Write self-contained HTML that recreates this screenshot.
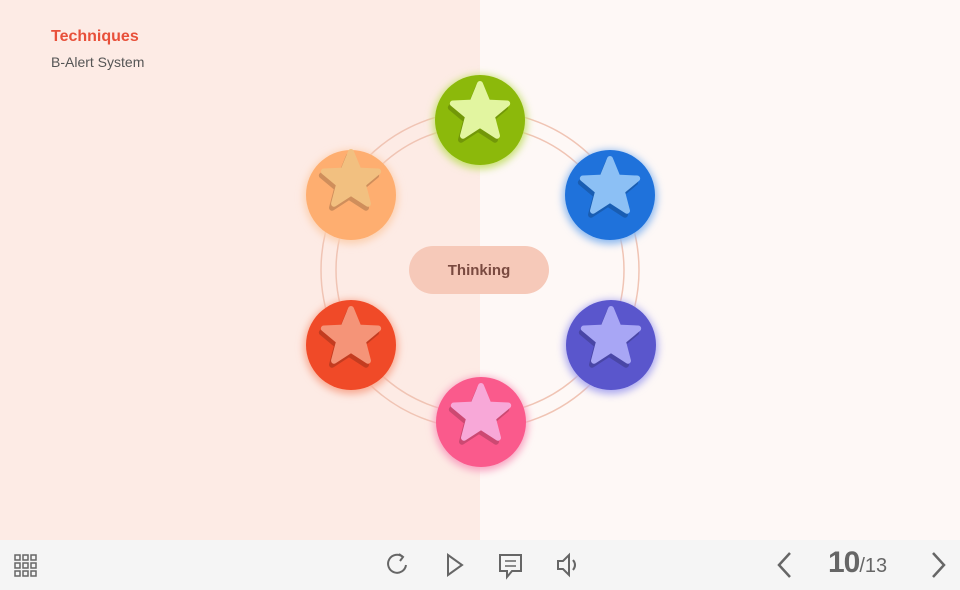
<!DOCTYPE html>
<html><head><meta charset="utf-8"><style>
body{margin:0;width:960px;height:590px;overflow:hidden;font-family:"Liberation Sans",sans-serif;position:relative;background:#fef8f6}
.l{position:absolute;left:0;top:0;width:480px;height:540px;background:#fdebe5}
.bar{position:absolute;left:0;top:540px;width:960px;height:50px;background:#f5f5f5}
.t1{position:absolute;left:51px;top:28px;color:#e8503a;font-weight:bold;font-size:16px}
.t2{position:absolute;left:51px;top:54px;color:#555;font-size:14px}
.pill{position:absolute;left:409px;top:246px;width:140px;height:48px;border-radius:24px;background:#f6c9b9;color:#7a4a40;font-weight:bold;font-size:15px;text-align:center;line-height:50px}
</style></head><body>
<div class="l"></div>
<div class="t1">Techniques</div>
<div class="t2">B-Alert System</div>
<svg width="960" height="540" style="position:absolute;left:0;top:0">
<defs>
<filter id="g" x="-50%" y="-50%" width="200%" height="200%"><feGaussianBlur stdDeviation="4"/></filter>
<g id="st"><polygon transform="scale(0.85)" points="0,-33 9,-11 32,-10 14,5 20,28 0,15 -20,28 -14,5 -32,-10 -9,-11" stroke-linejoin="round" stroke-width="7"/></g>
<g id="sh"><polygon transform="translate(-2,4) scale(0.85)" points="0,-33 9,-11 32,-10 14,5 20,28 0,15 -20,28 -14,5 -32,-10 -9,-11" stroke-linejoin="round" stroke-width="7" fill="#000" stroke="#000" opacity="0.18"/></g>
</defs>
<circle cx="480" cy="270" r="159" fill="none" stroke="#f0c4b4" stroke-width="1.5"/>
<circle cx="480" cy="270" r="144" fill="none" stroke="#f0c4b4" stroke-width="1.5"/>
<g>
<circle cx="480" cy="122" r="47" fill="#c6e070" filter="url(#g)"/><circle cx="480" cy="120" r="45" fill="#8cb90b"/>
<use href="#sh" x="480" y="112"/><use href="#st" x="480" y="112" fill="#e2f5a0" stroke="#e2f5a0"/>
<circle cx="610" cy="197" r="47" fill="#8ab8f0" filter="url(#g)"/><circle cx="610" cy="195" r="45" fill="#1f72db"/>
<use href="#sh" x="610" y="187"/><use href="#st" x="610" y="187" fill="#8cc0f5" stroke="#8cc0f5"/>
<circle cx="611" cy="347" r="47" fill="#aaa8f0" filter="url(#g)"/><circle cx="611" cy="345" r="45" fill="#5a56cc"/>
<use href="#sh" x="611" y="337"/><use href="#st" x="611" y="337" fill="#a8a6f5" stroke="#a8a6f5"/>
<circle cx="481" cy="424" r="47" fill="#f8a0c0" filter="url(#g)"/><circle cx="481" cy="422" r="45" fill="#fa5a8c"/>
<use href="#sh" x="481" y="414"/><use href="#st" x="481" y="414" fill="#f8a8d8" stroke="#f8a8d8"/>
<circle cx="351" cy="347" r="47" fill="#f8a890" filter="url(#g)"/><circle cx="351" cy="345" r="45" fill="#f04a28"/>
<use href="#sh" x="351" y="337"/><use href="#st" x="351" y="337" fill="#f59478" stroke="#f59478"/>
<circle cx="351" cy="197" r="47" fill="#fcd0b0" filter="url(#g)"/><circle cx="351" cy="195" r="45" fill="#feae70"/>
<use href="#sh" x="351" y="180"/><use href="#st" x="351" y="180" fill="#f2c080" stroke="#f2c080"/>
</g>
</svg>
<div class="pill">Thinking</div>
<div class="bar"></div>
<svg width="960" height="50" style="position:absolute;left:0;top:540px" fill="none" stroke="#666" stroke-width="2">
<g stroke-width="1.5"><rect x="15" y="15" width="5" height="5"/><rect x="23" y="15" width="5" height="5"/><rect x="31" y="15" width="5" height="5"/><rect x="15" y="23" width="5" height="5"/><rect x="23" y="23" width="5" height="5"/><rect x="31" y="23" width="5" height="5"/><rect x="15" y="31" width="5" height="5"/><rect x="23" y="31" width="5" height="5"/><rect x="31" y="31" width="5" height="5"/></g>
<path d="M403 17 A9 9 0 1 0 406 25"/><path d="M399 14 L403 17 L400 21"/>
<path d="M448 15 L462 25 L448 35 Z"/>
<path d="M500 15 H521 V31 H512 L507 37 V31 H500 Z"/><path d="M505 21 H516 M505 26 H516" stroke-width="1.5"/>
<path d="M558 21 H563 L569 15 V35 L563 29 H558 Z"/><path d="M573 20 Q577 25 573 30"/>
<path d="M790 13 L779 25 L790 37" stroke-width="2.5"/><path d="M933 13 L944 25 L933 37" stroke-width="2.5"/>
</svg>
<div style="position:absolute;left:828px;top:546px;color:#666;font-size:30px;font-weight:bold;letter-spacing:-1px">10<span style="font-size:20px;font-weight:normal;letter-spacing:0">/13</span></div>
</body></html>
